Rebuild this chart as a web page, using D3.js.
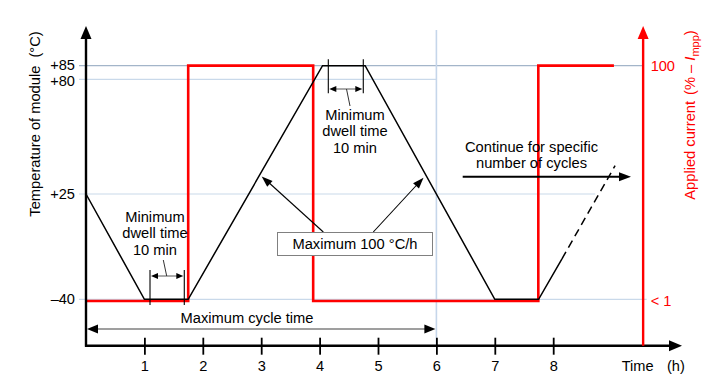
<!DOCTYPE html>
<html><head><meta charset="utf-8">
<script src="https://cdn.jsdelivr.net/npm/d3@7"></script>
<style>
html,body{margin:0;padding:0;background:#fff;}
svg{display:block;font-family:"Liberation Sans",Arial,sans-serif;}
</style></head>
<body><svg id="c" width="722" height="382"></svg>
<script>
// ---- data ----
const hours = [1, 2, 3, 4, 5, 6, 7, 8];
const tempTicks = [85, 80, 25, -40];
const tempLabels = ["+85", "+80", "+25", "\u201340"];
const tempTimes  = [0, 1.0, 1.75, 4.05, 4.78, 7.0, 7.75, 8.15];
const tempValues = [25, -40, -40, 85, 85, -40, -40, -15];
const dashTimes  = [8.15, 9.06];
const dashValues = [-15, 38.6];
const currentTimes  = [0, 1.75, 1.75, 3.89, 3.89, 7.745, 7.745, 9.04];
const currentValues = [0, 0, 100, 100, 0, 0, 100, 100];
const currentTicks  = [100, 0];
const currentLabels = ["100", "< 1"];
const gridTemps = [85, 80, 25, -40];
const gridEnds  = [9.54, 6.0, 8.72, 9.6];
const cycleHours = 6;

// ---- scales ----
const svg = d3.select("#c");
const x = d3.scaleLinear().domain([0, 8]).range([86, 553.2]);
const yT = d3.scaleLinear().domain([-40, 25, 80, 85]).range([299.3, 194, 79.3, 65.7]);
const yC = d3.scaleLinear().domain([0, 100]).range([301, 65.6]);
const axisY = 345.7, topY = 26, rightHour = 9.54;
const FS = "14.7px", TFS = "14.6px";

function tri(g, tx, ty, ang, len, w, col) {
  const a = ang * Math.PI / 180, c = Math.cos(a), s = Math.sin(a);
  const bx = tx - c * len, by = ty - s * len;
  const px = -s * w / 2, py = c * w / 2;
  g.append("path").attr("d", `M${tx},${ty}L${bx+px},${by+py}L${bx-px},${by-py}Z`).attr("fill", col);
}

// gridlines
const grid = svg.append("g");
gridTemps.forEach((t, i) => {
  grid.append("line").attr("x1", 79).attr("x2", x(gridEnds[i]))
    .attr("y1", yT(t)).attr("y2", yT(t))
    .attr("stroke", t === 85 ? "#a3b5c9" : "#c9d9ea").attr("stroke-width", 1.2);
});
grid.append("line").attr("x1", x(cycleHours)).attr("x2", x(cycleHours))
  .attr("y1", 30).attr("y2", axisY).attr("stroke", "#c5d6ea").attr("stroke-width", 1.6);

// current (red)
svg.append("path").datum(currentTimes.map((t, i) => [t, currentValues[i]]))
  .attr("d", d3.line().x(d => x(d[0])).y(d => yC(d[1])))
  .attr("fill", "none").attr("stroke", "#ff0000").attr("stroke-width", 2.6);

// temperature (black)
svg.append("path").datum(tempTimes.map((t, i) => [t, tempValues[i]]))
  .attr("d", d3.line().x(d => x(d[0])).y(d => yT(d[1])))
  .attr("fill", "none").attr("stroke", "#000").attr("stroke-width", 1.5);
svg.append("path").datum(dashTimes.map((t, i) => [t, dashValues[i]]))
  .attr("d", d3.line().x(d => x(d[0])).y(d => yT(d[1])))
  .attr("fill", "none").attr("stroke", "#000").attr("stroke-width", 1.5).attr("stroke-dasharray", "8,5");

// left axis
const la = svg.append("g").attr("transform", `translate(${x(0)},0)`)
  .call(d3.axisLeft(yT).tickValues(tempTicks).tickSize(0).tickPadding(11)
    .tickFormat((d, i) => tempLabels[i]));
la.select(".domain").remove();
la.selectAll("text").attr("font-size", TFS).attr("fill", "#000").attr("font-family", null);
la.selectAll(".tick").filter(d => d === 85).select("text").attr("dy", "0.25em");
la.selectAll(".tick").filter(d => d === 80).select("text").attr("dy", "0.42em");
svg.append("line").attr("x1", x(0)).attr("x2", x(0)).attr("y1", axisY + 1).attr("y2", topY + 10)
  .attr("stroke", "#000").attr("stroke-width", 2.4);
tri(svg, x(0), topY, -90, 13, 11, "#000");

// bottom axis
const ba = svg.append("g").attr("transform", `translate(0,${axisY})`)
  .call(d3.axisBottom(x).tickValues(hours).tickSizeInner(9).tickSizeOuter(0).tickPadding(6.3));
ba.select(".domain").remove();
ba.selectAll(".tick line").attr("y1", -8).attr("stroke", "#000").attr("stroke-width", 1.8);
ba.selectAll("text").attr("font-size", TFS).attr("fill", "#000").attr("font-family", null);
svg.append("line").attr("x1", x(0) - 1).attr("x2", 670).attr("y1", axisY).attr("y2", axisY)
  .attr("stroke", "#000").attr("stroke-width", 2.4);
tri(svg, 682, axisY, 0, 13, 11, "#000");
svg.append("text").attr("x", 621.7).attr("y", 370.7).attr("font-size", TFS).text("Time");
svg.append("text").attr("x", 667).attr("y", 370.7).attr("font-size", TFS).text("(h)");

// right axis (red)
const ra = svg.append("g").attr("transform", `translate(${x(rightHour)},0)`)
  .call(d3.axisRight(yC).tickValues(currentTicks).tickSize(0).tickPadding(7.5)
    .tickFormat((d, i) => currentLabels[i]));
ra.select(".domain").remove();
ra.selectAll("text").attr("font-size", TFS).attr("fill", "#ff0000").attr("font-family", null);
svg.append("line").attr("x1", x(rightHour)).attr("x2", x(rightHour)).attr("y1", axisY).attr("y2", topY + 10)
  .attr("stroke", "#ff0000").attr("stroke-width", 2.4);
tri(svg, x(rightHour), topY, -90, 13, 11, "#ff0000");

// axis titles
const lt = svg.append("text").attr("transform", "translate(40,124) rotate(-90)")
  .attr("text-anchor", "middle").attr("font-size", FS).attr("fill", "#000");
lt.append("tspan").text("Temperature of module");
lt.append("tspan").attr("dx", 8).text("(\u00b0C)");
const rt = svg.append("text").attr("transform", "translate(695,115) rotate(-90)")
  .attr("text-anchor", "middle").attr("font-size", FS).attr("fill", "#ff0000");
rt.append("tspan").text("Applied current");
rt.append("tspan").attr("dx", 6).text("(% \u2013 ");
rt.append("tspan").attr("font-style", "italic").text("I");
rt.append("tspan").attr("font-size", "11px").attr("dy", 4).text("mpp");
rt.append("tspan").attr("dy", -4).text(")");

// maximum cycle time
const cy = 329;
svg.append("line").attr("x1", x(0) + 8).attr("x2", x(cycleHours) - 8).attr("y1", cy).attr("y2", cy)
  .attr("stroke", "#7f7f7f").attr("stroke-width", 1.3);
tri(svg, x(0) + 1, cy, 180, 11, 9, "#000");
tri(svg, x(cycleHours) - 1, cy, 0, 11, 9, "#000");
svg.append("text").attr("x", 247).attr("y", 322.7).attr("text-anchor", "middle")
  .attr("font-size", FS).text("Maximum cycle time");

// dwell annotations
function dwell(h1, h2, yTop, yBot, yArr, lead, tx, ty) {
  const g = svg.append("g");
  [h1, h2].forEach(h => g.append("line").attr("x1", x(h)).attr("x2", x(h)).attr("y1", yTop).attr("y2", yBot)
    .attr("stroke", "#000").attr("stroke-width", 1.1));
  g.append("line").attr("x1", x(h1) + 5).attr("x2", x(h2) - 5).attr("y1", yArr).attr("y2", yArr)
    .attr("stroke", "#555").attr("stroke-width", 1);
  tri(g, x(h1) + 1, yArr, 180, 7, 6, "#000");
  tri(g, x(h2) - 1, yArr, 0, 7, 6, "#000");
  g.append("line").attr("x1", lead[0]).attr("y1", lead[1]).attr("x2", lead[2]).attr("y2", lead[3])
    .attr("stroke", "#333").attr("stroke-width", 1);
  const t = g.append("text").attr("text-anchor", "middle").attr("font-size", FS).attr("fill", "#000");
  ["Minimum", "dwell time", "10 min"].forEach((s, i) =>
    t.append("tspan").attr("x", tx).attr("y", ty + i * 16.6).text(s));
}
dwell(1.096, 1.683, 270, 305, 276, [166.7, 276, 163.3, 260], 155, 221.7);
dwell(4.149, 4.748, 59.3, 93.3, 89, [346.5, 89, 350, 106], 355, 119.5);

// Maximum 100 °C/h box + arrows
svg.append("line").attr("x1", 323.3).attr("y1", 232).attr("x2", 266.5).attr("y2", 180.5)
  .attr("stroke", "#000").attr("stroke-width", 1.1);
tri(svg, 261.7, 176.5, Math.atan2(176.5 - 232, 261.7 - 323.3) * 180 / Math.PI, 11, 8, "#000");
svg.append("line").attr("x1", 373.3).attr("y1", 232).attr("x2", 419.5).attr("y2", 182)
  .attr("stroke", "#000").attr("stroke-width", 1.1);
tri(svg, 423.5, 177.8, Math.atan2(177.8 - 232, 423.5 - 373.3) * 180 / Math.PI, 11, 8, "#000");
svg.append("rect").attr("x", 277.5).attr("y", 232.5).attr("width", 155).attr("height", 23)
  .attr("fill", "#fff").attr("stroke", "#808080").attr("stroke-width", 1);
svg.append("text").attr("x", 355).attr("y", 248.8).attr("text-anchor", "middle")
  .attr("font-size", FS).text("Maximum 100 \u00b0C/h");

// continue arrow
const ct = svg.append("text").attr("text-anchor", "middle").attr("font-size", FS).attr("fill", "#000");
ct.append("tspan").attr("x", 531.5).attr("y", 151.7).text("Continue for specific");
ct.append("tspan").attr("x", 531.5).attr("y", 168.3).text("number of cycles");
svg.append("line").attr("x1", 462.7).attr("x2", 620).attr("y1", 176.7).attr("y2", 176.7)
  .attr("stroke", "#000").attr("stroke-width", 2);
tri(svg, 631, 176.7, 0, 12, 9, "#000");
</script></body></html>
